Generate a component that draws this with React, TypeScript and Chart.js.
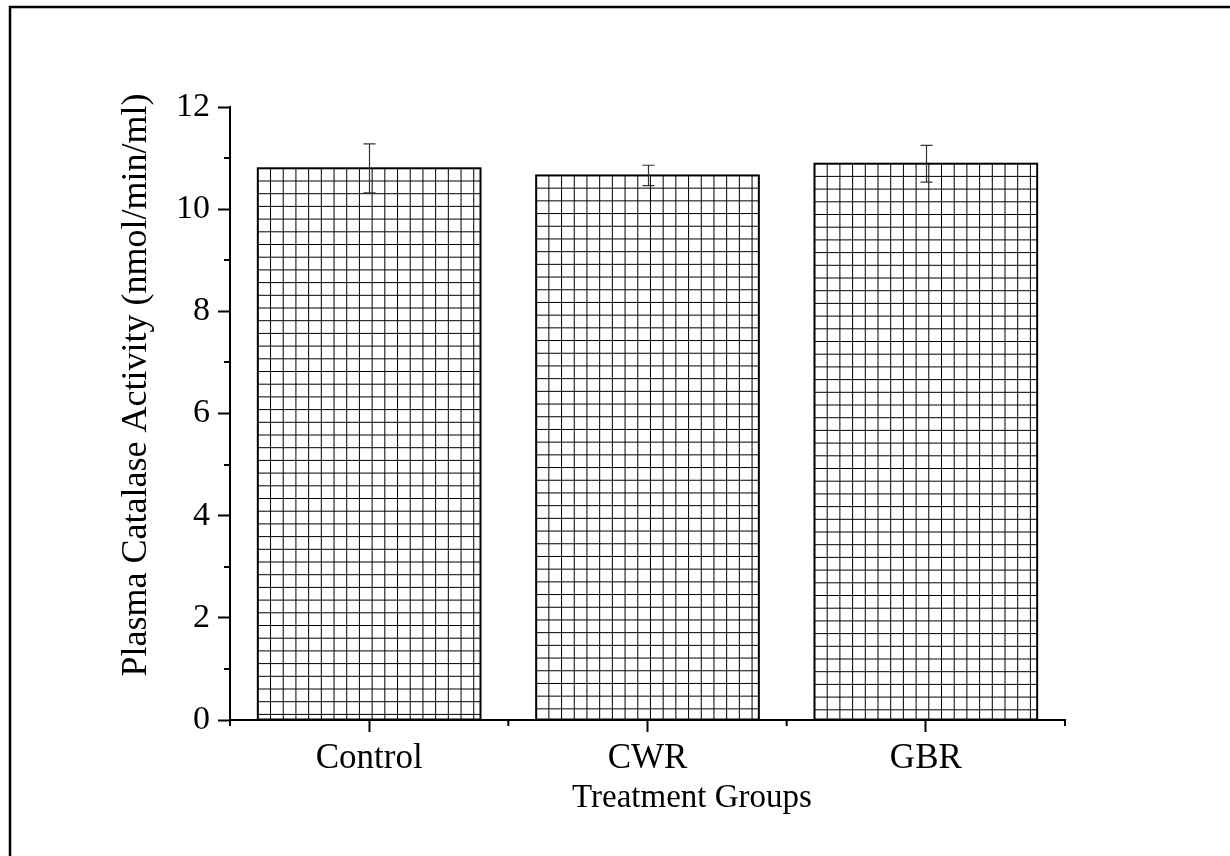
import { useEffect, useRef } from "react";
import { Chart, registerables } from "chart.js";

Chart.register(...registerables);

// Plasma catalase activity per treatment group (mean ± error)
const groups = ["Control", "CWR", "GBR"];
const catalaseMeans = [10.8, 10.66, 10.89];
const catalaseErrors = [0.48, 0.2, 0.36];
const yMajorTicks = [0, 2, 4, 6, 8, 10, 12];
const yMinorTicks = [1, 3, 5, 7, 9, 11];
const xTitle = "Treatment Groups";
const yTitle = "Plasma Catalase Activity (nmol/min/ml)";

const SERIF = "'Liberation Serif', 'Times New Roman', serif";
const CELL = 12.7; // spacing of the crosshatch fill inside each bar

const originStyle = {
  id: "originStyle",
  beforeDraw(chart: any) {
    const ctx = chart.ctx;
    ctx.save();
    ctx.strokeStyle = "#000";
    ctx.lineWidth = 2.5;
    ctx.strokeRect(10, 7, 1400, 1000);
    ctx.restore();
  },
  afterDatasetsDraw(chart: any) {
    const ctx = chart.ctx;
    const yScale = chart.scales.y;
    const meta = chart.getDatasetMeta(0);
    meta.data.forEach((bar: any, i: number) => {
      const { x, y: top, base, width } = bar.getProps(["x", "y", "base", "width"], true);
      const left = x - width / 2;
      const right = x + width / 2;

      // crosshatch fill
      ctx.save();
      ctx.beginPath();
      ctx.rect(left, top, right - left, base - top);
      ctx.clip();
      ctx.strokeStyle = "#000";
      ctx.lineWidth = 1;
      ctx.beginPath();
      for (let gx = left + CELL; gx < right; gx += CELL) {
        ctx.moveTo(gx, top);
        ctx.lineTo(gx, base);
      }
      for (let gy = top + CELL; gy < base; gy += CELL) {
        ctx.moveTo(left, gy);
        ctx.lineTo(right, gy);
      }
      ctx.stroke();
      ctx.restore();

      // bar outline
      ctx.save();
      ctx.strokeStyle = "#000";
      ctx.lineWidth = 2;
      ctx.strokeRect(left, top, right - left, base - top);
      ctx.restore();

      // error bar
      const hi = yScale.getPixelForValue(catalaseMeans[i] + catalaseErrors[i]);
      const lo = yScale.getPixelForValue(catalaseMeans[i] - catalaseErrors[i]);
      const cx = Math.round(x) + 0.5;
      ctx.save();
      ctx.strokeStyle = "#333";
      ctx.lineWidth = 1.2;
      ctx.beginPath();
      ctx.moveTo(cx, hi);
      ctx.lineTo(cx, lo);
      ctx.moveTo(cx - 6, hi);
      ctx.lineTo(cx + 6, hi);
      ctx.moveTo(cx - 6, lo);
      ctx.lineTo(cx + 6, lo);
      ctx.stroke();
      ctx.restore();
    });
  },
  afterDraw(chart: any) {
    const ctx = chart.ctx;
    const { left, right, bottom } = chart.chartArea;
    const yScale = chart.scales.y;

    ctx.save();
    ctx.strokeStyle = "#000";
    ctx.lineWidth = 2;
    ctx.beginPath();
    // minor y ticks
    yMinorTicks.forEach((v) => {
      const py = Math.round(yScale.getPixelForValue(v));
      ctx.moveTo(left - 6, py);
      ctx.lineTo(left, py);
    });
    // minor x ticks at category boundaries
    const step = (right - left) / groups.length;
    for (let k = 0; k <= groups.length; k++) {
      const px = left + k * step;
      ctx.moveTo(px, bottom);
      ctx.lineTo(px, bottom + 6);
    }
    ctx.stroke();
    ctx.restore();

    // axis titles
    ctx.save();
    ctx.fillStyle = "#000";
    ctx.textAlign = "center";
    ctx.textBaseline = "middle";
    ctx.font = `33px ${SERIF}`;
    ctx.fillText(xTitle, 692, 798);
    ctx.font = `36px ${SERIF}`;
    ctx.translate(137, 385);
    ctx.rotate(-Math.PI / 2);
    ctx.fillText(yTitle, 0, 0);
    ctx.restore();
  },
};

export default function App() {
  const canvasRef = useRef<HTMLCanvasElement | null>(null);

  useEffect(() => {
    if (!canvasRef.current) return;
    const chart = new Chart(canvasRef.current, {
      type: "bar",
      data: {
        labels: groups,
        datasets: [
          {
            data: catalaseMeans,
            backgroundColor: "#fff",
            borderWidth: 0,
            barPercentage: 0.8,
            categoryPercentage: 1,
          },
        ],
      },
      options: {
        animation: false,
        responsive: false,
        devicePixelRatio: 1,
        layout: { padding: { top: 107, right: 165, left: 0, bottom: 0 } },
        plugins: { legend: { display: false }, tooltip: { enabled: false } },
        scales: {
          x: {
            offset: true,
            grid: {
              offset: false,
              display: true,
              drawOnChartArea: false,
              drawTicks: true,
              tickLength: 12,
              tickWidth: 2,
              tickColor: "#000",
            },
            border: { display: true, color: "#000", width: 2 },
            ticks: { color: "#000", font: { family: SERIF, size: 35 }, padding: 6 },
            afterFit: (s: any) => {
              s.height = 136;
            },
          },
          y: {
            min: 0,
            max: 12,
            afterBuildTicks: (s: any) => {
              s.ticks = yMajorTicks.map((v) => ({ value: v }));
            },
            grid: {
              display: true,
              drawOnChartArea: false,
              drawTicks: true,
              tickLength: 12,
              tickWidth: 2,
              tickColor: "#000",
            },
            border: { display: true, color: "#000", width: 2 },
            ticks: { color: "#000", font: { family: SERIF, size: 34 }, padding: 8 },
            afterFit: (s: any) => {
              s.width = 230;
            },
          },
        },
      },
      plugins: [originStyle],
    });
    return () => chart.destroy();
  }, []);

  return (
    <div style={{ position: "fixed", left: 0, top: 0, width: 1230, height: 856, background: "#fff" }}>
      <canvas ref={canvasRef} width={1230} height={856} />
    </div>
  );
}
